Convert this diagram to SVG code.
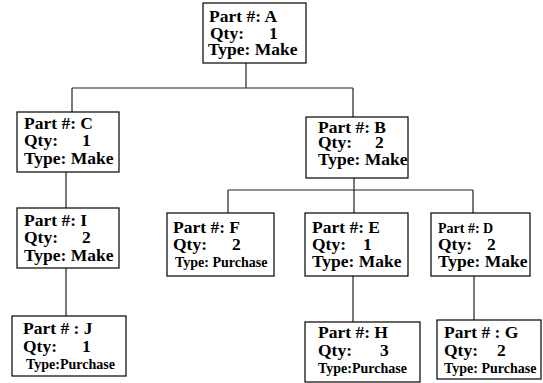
<svg xmlns="http://www.w3.org/2000/svg" width="543" height="383" viewBox="0 0 543 383">
<style>
rect{fill:#fff;stroke:#000;stroke-width:1.2}
text{font-family:"Liberation Serif","Times New Roman",serif;font-weight:bold;fill:#000;font-size:17.5px}
.s{font-size:14px}
#connectors path{fill:none;stroke:#222;stroke-width:1.2}
</style>
<rect x="0" y="0" width="543" height="383" style="stroke:none"/>
<g id="connectors">
<path d="M246 63V88M72 88H353M72 88V112M353 88V117"/>
<path d="M66 172V208M66 268V316"/>
<path d="M354 178V213M228 190H473M228 190V213M473 190V213"/>
<path d="M353 276V322M474 276V320"/>
</g>
<g id="A"><rect x="203" y="3" width="103" height="60"/>
<text x="209" y="22">Part #: A</text><text x="210" y="38.5">Qty:</text><text x="269" y="38.5">1</text><text x="208" y="55">Type: Make</text></g>
<g id="C"><rect x="17" y="112" width="102" height="60"/>
<text x="24" y="129">Part #: C</text><text x="24" y="146">Qty:</text><text x="82" y="146">1</text><text x="24" y="164">Type: Make</text></g>
<g id="B"><rect x="306" y="117" width="102" height="61"/>
<text x="318" y="133">Part #: B</text><text x="318" y="148">Qty:</text><text x="375" y="148">2</text><text x="318" y="165">Type: Make</text></g>
<g id="I"><rect x="17" y="208" width="102" height="60"/>
<text x="24" y="226">Part #: I</text><text x="24" y="243">Qty:</text><text x="82" y="243">2</text><text x="24" y="261">Type: Make</text></g>
<g id="F"><rect x="167" y="213" width="107" height="63"/>
<text x="173" y="233">Part #: F</text><text x="173" y="250">Qty:</text><text x="232" y="250">2</text><text class="s" x="175" y="267">Type: Purchase</text></g>
<g id="E"><rect x="305" y="213" width="103" height="63"/>
<text x="312" y="233">Part #: E</text><text x="312" y="250">Qty:</text><text x="363" y="250">1</text><text x="312" y="267">Type: Make</text></g>
<g id="D"><rect x="431" y="213" width="99" height="63"/>
<text class="s" x="438" y="233">Part #: D</text><text x="438" y="250">Qty:</text><text x="487" y="250">2</text><text x="438" y="267">Type: Make</text></g>
<g id="J"><rect x="12" y="316" width="114" height="60"/>
<text x="23" y="334">Part # : J</text><text x="23" y="352">Qty:</text><text x="82" y="352">1</text><text class="s" x="26" y="369">Type:Purchase</text></g>
<g id="H"><rect x="305" y="322" width="115" height="60"/>
<text x="318" y="338">Part #: H</text><text x="318" y="356">Qty:</text><text x="380" y="356">3</text><text class="s" x="318" y="373">Type:Purchase</text></g>
<g id="G"><rect x="437" y="320" width="104" height="59"/>
<text x="444" y="338">Part # : G</text><text x="444" y="356">Qty:</text><text x="497" y="356">2</text><text class="s" x="444" y="373">Type: Purchase</text></g>
</svg>
